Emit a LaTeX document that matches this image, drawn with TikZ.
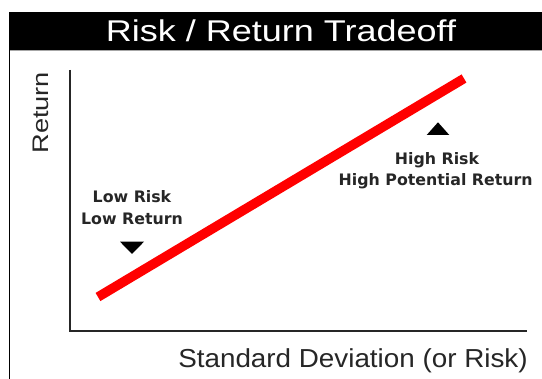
\documentclass[tikz,border=0pt]{standalone}
\usepackage{fontspec}
\setmainfont{Liberation Sans}
\newfontfamily\labelfont{DejaVu Sans}
\begin{document}
\begin{tikzpicture}[x=1pt,y=-1pt,
  axisline/.style={line width=1.3pt,black!85},
  boldlbl/.style={font=\labelfont\bfseries\fontsize{15.8}{18}\selectfont,inner sep=0pt,anchor=base,text=black!85},
  marker/.style={fill=black}]
\useasboundingbox (0,0) rectangle (542,379);
\fill[white] (0,0) rectangle (542,379);
% title bar
\fill[black] (9,12) rectangle (542,50.5);
\draw[gray!70,line width=1pt] (9,51) -- (542,51);
\draw[black,line width=1.2pt] (9.6,50) -- (9.6,379);
\node[inner sep=0pt,anchor=base,text=white,font=\fontsize{30}{34}\selectfont] (title) at (281,41.5) {\scalebox{1.2}[1]{Risk / Return Tradeoff}};
% axes
\coordinate (ytop) at (70,70);
\coordinate (origin) at (70,331);
\coordinate (xend) at (527,331);
\draw[axisline] (ytop) -- (origin) -- (xend);
% axis labels
\node[inner sep=0pt,anchor=base,rotate=90,text=black!85,font=\fontsize{22.5}{26}\selectfont] (ylab) at (48.3,112.8) {\scalebox{1.21}[1]{Return}};
\node[inner sep=0pt,anchor=base,text=black!85,font=\fontsize{26}{30}\selectfont] (xlab) at (353,367.5) {\scalebox{1.07}[1]{Standard Deviation (or Risk)}};
% red tradeoff line
\coordinate (lo) at (98,297);
\coordinate (hi) at (464,78.5);
\draw[red,line width=9.5pt] (lo) -- (hi);
% labels
\node[boldlbl] (lowrisk) at (132,202.3) {Low Risk};
\node[boldlbl] (lowret) at (132,224.3) {Low Return};
\node[boldlbl] (highrisk) at (437,165) {High Risk};
\node[boldlbl] (highret) at (435.7,186) {High Potential Return};
% markers
\fill[marker] (120,241.7) -- (144,241.7) -- (132,254) -- cycle;
\fill[marker] (426.7,135) -- (449.3,135) -- (438,122.3) -- cycle;
\end{tikzpicture}
\end{document}
